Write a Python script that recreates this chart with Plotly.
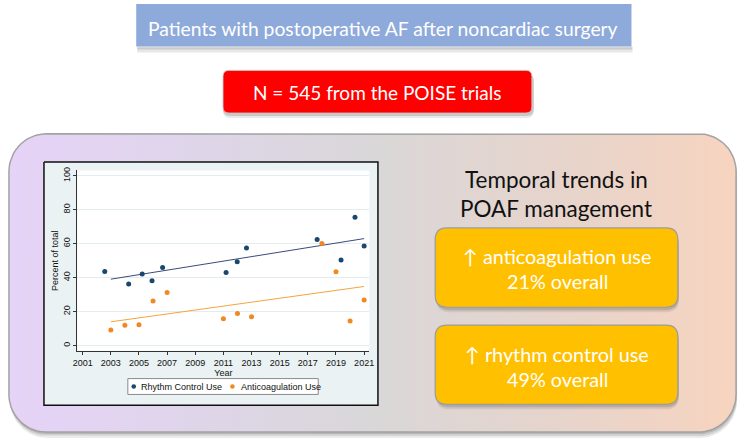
import numpy as np
import plotly.graph_objects as go

# ---------------- data ----------------
rhythm_years = [2002.57, 2004.27, 2005.23, 2005.93, 2006.68, 2011.19, 2011.98, 2012.64,
                2017.66, 2019.36, 2020.35, 2021.0]
rhythm_pct = [43.6, 36.2, 42.2, 38.1, 45.9, 43.0, 49.4, 57.4, 62.5, 50.4, 75.5, 58.6]

anticoag_years = [2003, 2004, 2005, 2006, 2007, 2011, 2012, 2013, 2018, 2019, 2020, 2021]
anticoag_pct = [9.1, 11.9, 12.3, 26.3, 31.3, 15.8, 18.9, 16.9, 60.1, 43.4, 14.4, 26.8]

fit_years = [2003, 2021]
rhythm_fit = [39.1, 63.0]
anticoag_fit = [14.0, 34.8]

x_ticks = [2001, 2003, 2005, 2007, 2009, 2011, 2013, 2015, 2017, 2019, 2021]
y_ticks = [0, 20, 40, 60, 80, 100]
legend_labels = ["Rhythm Control Use", "Anticoagulation Use"]

title_top = "Patients with postoperative AF after noncardiac surgery"
title_n = "N = 545 from the POISE trials"
trend_title = ["Temporal trends in", "POAF management"]
box1_lines = ["\u2191 anticoagulation use", "21% overall"]
box2_lines = ["\u2191 rhythm control use", "49% overall"]

# ---------------- styles ----------------
W, H = 746, 443
BLUE_DOT = "#1a476f"
ORANGE_DOT = "#f0891f"
BLUE_FIT = "#3b4b7c"
ORANGE_FIT = "#f4a43c"
UI_FONT = "Lato"
CHART_FONT = "Liberation Sans"


def rr_points(x0, y0, x1, y1, r, n=20):
    xs, ys = [], []
    corners = [((x0 + r, y0 + r), 180, 270), ((x1 - r, y0 + r), 270, 360),
               ((x1 - r, y1 - r), 0, 90), ((x0 + r, y1 - r), 90, 180)]
    for (cx, cy), a0, a1 in corners:
        t = np.radians(np.linspace(a0, a1, n))
        xs.extend(cx + r * np.cos(t))
        ys.extend(cy + r * np.sin(t))
    xs.append(xs[0]); ys.append(ys[0])
    return xs, ys


def rr_path(x0, y0, x1, y1, r):
    return (f"M{x0+r},{y0} L{x1-r},{y0} Q{x1},{y0} {x1},{y0+r} L{x1},{y1-r} "
            f"Q{x1},{y1} {x1-r},{y1} L{x0+r},{y1} Q{x0},{y1} {x0},{y1-r} "
            f"L{x0},{y0+r} Q{x0},{y0} {x0+r},{y0} Z")


fig = go.Figure()

# ---------- background decorations (pixel axes x/y) ----------
BX0, BY0, BX1, BY1, BR = 4, 131, 741, 432, 38
for dx, dy, a in [(1, 6, 0.10), (1, 4, 0.14), (0.5, 2, 0.18)]:
    sx, sy = rr_points(BX0 + dx, BY0 + dy, BX1 + dx, BY1 + dy, BR)
    fig.add_trace(go.Scatter(x=sx, y=sy, mode="lines", fill="toself",
                             fillcolor=f"rgba(60,60,60,{a})", line=dict(width=0),
                             hoverinfo="skip", showlegend=False, xaxis="x", yaxis="y"))
bx, by = rr_points(BX0, BY0, BX1, BY1, BR)
fig.add_trace(go.Scatter(
    x=bx, y=by, mode="lines", fill="toself",
    fillgradient=dict(type="horizontal",
                      colorscale=[[0, "#e6d3f8"], [0.25, "#dfd5ea"], [0.5, "#d9d7d8"],
                                  [0.75, "#e6d4cc"], [1, "#f7d4bf"]]),
    line=dict(color="#a3a3a3", width=1.5),
    hoverinfo="skip", showlegend=False, xaxis="x", yaxis="y"))

# chart frame
fig.add_trace(go.Scatter(x=[39.5, 378, 378, 39.5, 39.5], y=[159.5, 159.5, 405, 405, 159.5],
                         mode="lines", fill="toself", fillcolor="#eaf2f3",
                         line=dict(color="#111111", width=1.5),
                         hoverinfo="skip", showlegend=False, xaxis="x", yaxis="y"))
# plot area
fig.add_trace(go.Scatter(x=[73.3, 369.3, 369.3, 73.3, 73.3], y=[168, 168, 350, 350, 168],
                         mode="lines", fill="toself", fillcolor="#ffffff",
                         line=dict(width=0),
                         hoverinfo="skip", showlegend=False, xaxis="x", yaxis="y"))

# ---------- chart (x2/y2) ----------
fig.add_trace(go.Scatter(x=fit_years, y=rhythm_fit, mode="lines",
                         line=dict(color=BLUE_FIT, width=1), showlegend=False,
                         xaxis="x2", yaxis="y2"))
fig.add_trace(go.Scatter(x=fit_years, y=anticoag_fit, mode="lines",
                         line=dict(color=ORANGE_FIT, width=1), showlegend=False,
                         xaxis="x2", yaxis="y2"))
fig.add_trace(go.Scatter(x=rhythm_years, y=rhythm_pct, mode="markers", name=legend_labels[0],
                         marker=dict(color=BLUE_DOT, size=5), showlegend=False,
                         xaxis="x2", yaxis="y2"))
fig.add_trace(go.Scatter(x=anticoag_years, y=anticoag_pct, mode="markers", name=legend_labels[1],
                         marker=dict(color=ORANGE_DOT, size=5), showlegend=False,
                         xaxis="x2", yaxis="y2"))

shapes = []
annotations = []

# top blue banner
shapes.append(dict(type="rect", xref="x", yref="y", x0=134, y0=44, x1=636, y1=49,
                   fillcolor="rgba(120,120,120,0.18)", line=dict(width=0), layer="above"))
shapes.append(dict(type="rect", xref="x", yref="y", x0=134, y0=43, x1=636, y1=46,
                   fillcolor="rgba(120,120,120,0.25)", line=dict(width=0), layer="above"))
shapes.append(dict(type="rect", xref="x", yref="y", x0=133, y0=0, x1=635, y1=43,
                   fillcolor="#8eaadb", line=dict(width=0), layer="above"))
annotations.append(dict(text=title_top, x=383, y=25, xref="x", yref="y", showarrow=False,
                        xanchor="center", yanchor="middle",
                        font=dict(family=UI_FONT, size=19.3, color="white")))

# red box
for dx, dy, a in [(1, 5, 0.12), (1, 3, 0.2)]:
    shapes.append(dict(type="path", xref="x", yref="y",
                       path=rr_path(221 + dx - 1, 67 + dy, 534 + dx + 1, 110 + dy, 7),
                       fillcolor=f"rgba(70,70,70,{a})", line=dict(width=0), layer="above"))
shapes.append(dict(type="path", xref="x", yref="y", path=rr_path(221, 67, 534, 110, 6),
                   fillcolor="#ff0000", line=dict(color="#c8c8c8", width=0.8), layer="above"))
annotations.append(dict(text=title_n, x=377.5, y=89.5, xref="x", yref="y", showarrow=False,
                        xanchor="center", yanchor="middle",
                        font=dict(family=UI_FONT, size=19, color="white")))

# trend title
for txt, yy in zip(trend_title, [177, 206.5]):
    annotations.append(dict(text=txt, x=558.5, y=yy, xref="x", yref="y", showarrow=False,
                            xanchor="center", yanchor="middle",
                            font=dict(family=UI_FONT, size=22.5, color="#111111")))

# orange boxes
for (y0, y1), lines, ys in [((226, 306), box1_lines, [254.5, 280]),
                            ((324, 404), box2_lines, [353.5, 378.5])]:
    for dx, dy, a in [(1, 5, 0.12), (1, 3, 0.2)]:
        shapes.append(dict(type="path", xref="x", yref="y",
                           path=rr_path(436 + dx, y0 + dy, 682 + dx, y1 + dy, 13),
                           fillcolor=f"rgba(70,70,70,{a})", line=dict(width=0), layer="above"))
    shapes.append(dict(type="path", xref="x", yref="y", path=rr_path(436, y0, 682, y1, 12),
                       fillcolor="#ffc000", line=dict(color="#9c9c9c", width=1.2), layer="above"))
    for txt, yy in zip(lines, ys):
        annotations.append(dict(text=txt, x=560, y=yy, xref="x", yref="y", showarrow=False,
                                xanchor="center", yanchor="middle",
                                font=dict(family=UI_FONT, size=19.8, color="white")))

# legend box (Stata style)
shapes.append(dict(type="rect", xref="x", yref="y", x0=124.5, y0=378, x1=317.5, y1=394,
                   fillcolor="white", line=dict(color="#8a8a8a", width=1), layer="above"))
for cx, col, lab, tx in [(130.5, BLUE_DOT, legend_labels[0], 136),
                         (230.5, ORANGE_DOT, legend_labels[1], 237)]:
    shapes.append(dict(type="circle", xref="x", yref="y", x0=cx - 2.3, x1=cx + 2.3,
                       y0=386 - 2.3, y1=386 + 2.3, fillcolor=col, line=dict(width=0),
                       layer="above"))
    annotations.append(dict(text=lab, x=tx, y=386.5, xref="x", yref="y", showarrow=False,
                            xanchor="left", yanchor="middle",
                            font=dict(family=CHART_FONT, size=9, color="#111111")))

fig.update_layout(
    width=W, height=H, autosize=False,
    margin=dict(l=0, r=0, t=0, b=0, pad=0),
    paper_bgcolor="white", plot_bgcolor="rgba(0,0,0,0)",
    showlegend=False, hovermode=False, dragmode=False,
    xaxis=dict(domain=[0, 1], range=[0, W], visible=False, fixedrange=True),
    yaxis=dict(domain=[0, 1], range=[H, 0], visible=False, fixedrange=True),
    xaxis2=dict(domain=[73.3 / W, 369.3 / W], range=[2000.62, 2021.37], anchor="y2",
                tickvals=x_ticks, ticks="outside", ticklen=3, tickwidth=1, tickcolor="#333",
                showline=True, linecolor="#333", linewidth=1, showgrid=False, zeroline=False,
                fixedrange=True,
                tickfont=dict(family=CHART_FONT, size=9, color="#111"),
                title=dict(text="Year", standoff=1,
                           font=dict(family=CHART_FONT, size=9, color="#111"))),
    yaxis2=dict(domain=[1 - 350 / H, 1 - 168 / H], range=[-3.1, 103.1], anchor="x2",
                tickvals=y_ticks, ticks="outside", ticklen=3, tickwidth=1, tickcolor="#333",
                tickangle=-90, fixedrange=True,
                showline=True, linecolor="#333", linewidth=1, showgrid=True,
                gridcolor="#e3ecef", gridwidth=1, zeroline=False,
                tickfont=dict(family=CHART_FONT, size=9, color="#111"),
                title=dict(text="Percent of total", standoff=1,
                           font=dict(family=CHART_FONT, size=9, color="#111"))),
    shapes=shapes, annotations=annotations,
)

fig.write_html("out.html", config={"displayModeBar": False},
               post_script="document.body.style.margin='0px';")
